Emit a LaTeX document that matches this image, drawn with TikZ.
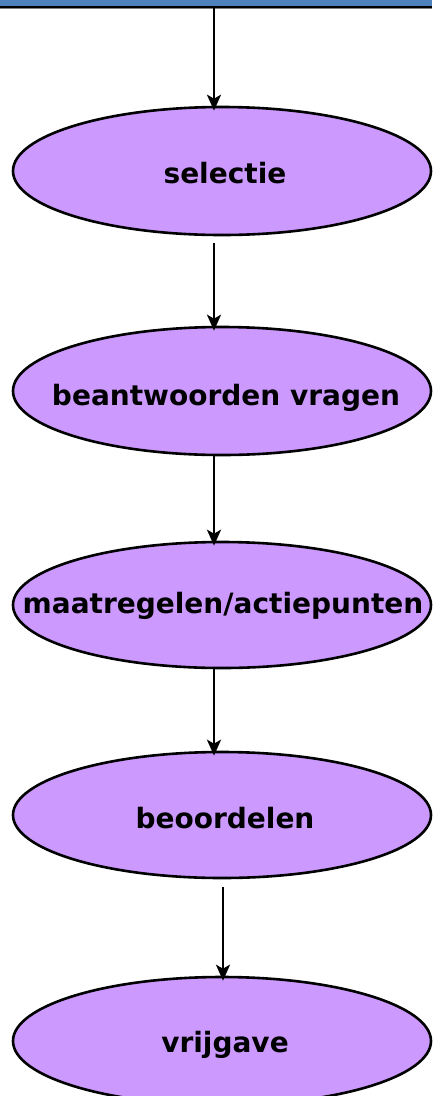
\documentclass[tikz,border=0pt]{standalone}
\usepackage{fontspec}
\setmainfont{DejaVu Sans}
\usetikzlibrary{shapes.geometric,arrows.meta}
\definecolor{lilac}{HTML}{CC99FF}
\definecolor{barblue}{HTML}{4F81BD}
\tikzset{
  stepell/.style={ellipse, draw=black, line width=2.6pt, fill=lilac, minimum width=418pt, inner sep=0pt},
  lbl/.style={anchor=base, inner sep=0pt, font=\bfseries\fontsize{28}{34}\selectfont},
  flow/.style={line width=2.4pt, -{Stealth[length=16pt,width=14pt,inset=4pt]}, shorten >=-5pt}
}
\begin{document}
\begin{tikzpicture}[x=1pt,y=-1pt]
\useasboundingbox (0,0) rectangle (432,1096);
% top bar
\fill[barblue] (0,0) rectangle (432,6.5);
\draw[line width=2pt] (0,7) -- (432,7);
\draw[line width=1pt, gray] (0,8.5) -- (432,8.5);
\coordinate (bar) at (214,8);

\node[stepell, minimum height=128pt] (e1) at (222,171) {};
\node[stepell, minimum height=128pt] (e2) at (222,391) {};
\node[stepell, minimum height=126pt] (e3) at (222,605) {};
\node[stepell, minimum height=126pt] (e4) at (222,815) {};
\node[stepell, minimum height=128pt] (e5) at (222,1041) {};

\node[lbl] (t1) at (225,183) {selectie};
\node[lbl] (t2) at (226,405) {beantwoorden vragen};
\node[lbl] (t3) at (223,613) {maatregelen/actiepunten};
\node[lbl] (t4) at (225,828) {beoordelen};
\node[lbl] (t5) at (225,1052) {vrijgave};

\coordinate (s2) at (214,243);
\coordinate (s3) at (214,455);
\coordinate (s4) at (214,668);
\coordinate (s5) at (223,887);

\draw[flow] (bar) -- (e1.north -| bar);
\draw[flow] (s2) -- (e2.north -| s2);
\draw[flow] (s3) -- (e3.north -| s3);
\draw[flow] (s4) -- (e4.north -| s4);
\draw[flow] (s5) -- (e5.north -| s5);
\end{tikzpicture}
\end{document}
